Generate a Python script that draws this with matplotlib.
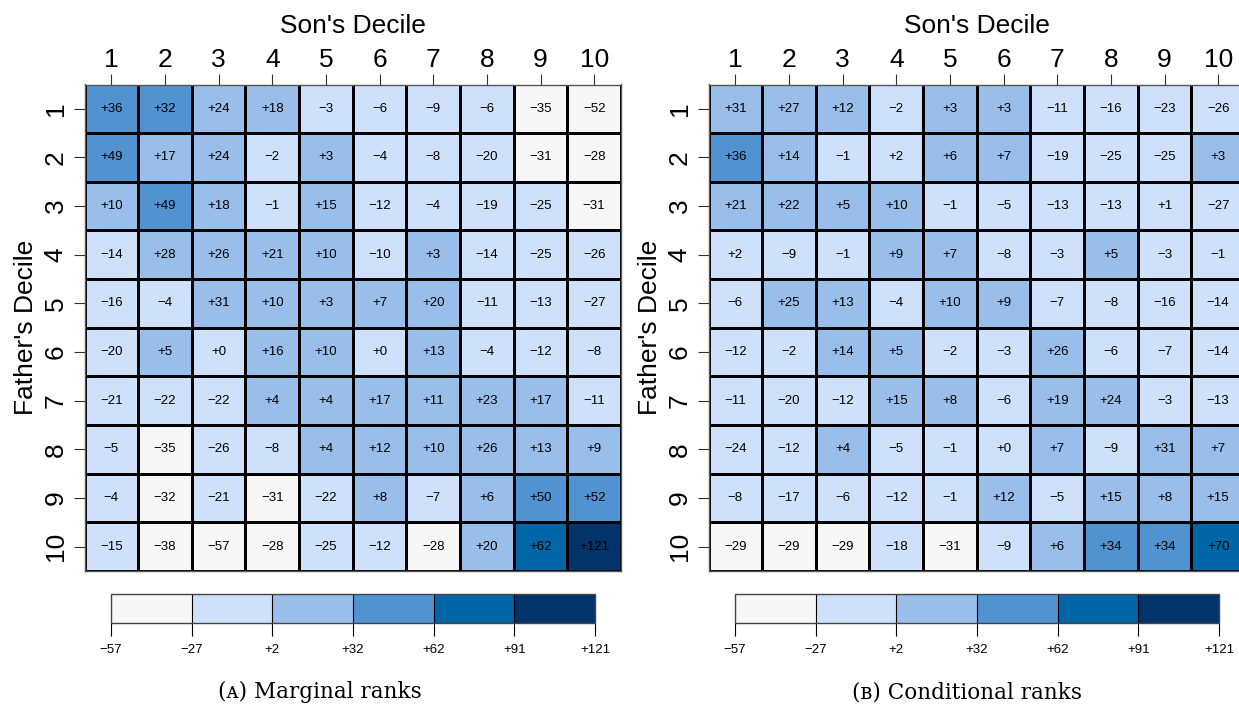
import numpy as np
import matplotlib
matplotlib.use('Agg')
import matplotlib.pyplot as plt
from matplotlib.colors import ListedColormap, BoundaryNorm

plt.rcParams['font.family'] = ['Liberation Sans', 'DejaVu Sans']

deciles = list(range(1, 11))

# rows = father's decile 1..10, columns = son's decile 1..10
marginal = [
    [36, 32, 24, 18, -3, -6, -9, -6, -35, -52],
    [49, 17, 24, -2, 3, -4, -8, -20, -31, -28],
    [10, 49, 18, -1, 15, -12, -4, -19, -25, -31],
    [-14, 28, 26, 21, 10, -10, 3, -14, -25, -26],
    [-16, -4, 31, 10, 3, 7, 20, -11, -13, -27],
    [-20, 5, 0, 16, 10, 0, 13, -4, -12, -8],
    [-21, -22, -22, 4, 4, 17, 11, 23, 17, -11],
    [-5, -35, -26, -8, 4, 12, 10, 26, 13, 9],
    [-4, -32, -21, -31, -22, 8, -7, 6, 50, 52],
    [-15, -38, -57, -28, -25, -12, -28, 20, 62, 121],
]

conditional = [
    [31, 27, 12, -2, 3, 3, -11, -16, -23, -26],
    [36, 14, -1, 2, 6, 7, -19, -25, -25, 3],
    [21, 22, 5, 10, -1, -5, -13, -13, 1, -27],
    [2, -9, -1, 9, 7, -8, -3, 5, -3, -1],
    [-6, 25, 13, -4, 10, 9, -7, -8, -16, -14],
    [-12, -2, 14, 5, -2, -3, 26, -6, -7, -14],
    [-11, -20, -12, 15, 8, -6, 19, 24, -3, -13],
    [-24, -12, 4, -5, -1, 0, 7, -9, 31, 7],
    [-8, -17, -6, -12, -1, 12, -5, 15, 8, 15],
    [-29, -29, -29, -18, -31, -9, 6, 34, 34, 70],
]

scale_min, scale_max = -57, 121
palette = ['#F7F7F7', '#CFE1FA', '#9ABEEA', '#5193D1', '#0066A6', '#02336A']

breaks = np.linspace(scale_min, scale_max, len(palette) + 1)
cmap = ListedColormap(palette).with_extremes(over=palette[-1], under=palette[0])
norm = BoundaryNorm(breaks, cmap.N)


def fmt(v):
    return f"{v:+.0f}".replace('-', '\u2212')


W, H = 1239, 714
fig = plt.figure(figsize=(W / 100, H / 100), dpi=100)


def panel(x0, data, caption, cap_x):
    ax = fig.add_axes([x0 / W, 1 - 571 / H, 536.5 / W, 486.5 / H])
    arr = np.array(data, dtype=float)
    edges = np.arange(0.5, 11.5, 1)
    mesh = ax.pcolormesh(edges, edges, arr, cmap=cmap, norm=norm,
                         edgecolors='black', linewidth=0.75)
    ax.set_xlim(0.5, 10.5)
    ax.set_ylim(10.5, 0.5)
    for i in range(10):
        for j in range(10):
            ax.text(deciles[j], deciles[i], fmt(arr[i, j]), ha='center', va='center',
                    fontsize=9.5, color='black')

    ax.xaxis.tick_top()
    ax.xaxis.set_label_position('top')
    ax.set_xticks(deciles)
    ax.set_yticks(deciles)
    ax.set_xticklabels([str(d) for d in deciles], fontsize=19)
    ax.set_yticklabels([str(d) for d in deciles], fontsize=19, rotation=90, va='center')
    ax.tick_params(axis='both', length=8, width=0.8, color='#333333')
    ax.tick_params(axis='x', pad=1)
    ax.tick_params(axis='y', pad=4)
    ax.set_xlabel("Son's Decile", fontsize=19, labelpad=11)
    ax.set_ylabel("Father's Decile", fontsize=19, labelpad=4)
    for s in ax.spines.values():
        s.set_color('#555555')
        s.set_linewidth(1.0)

    cax = fig.add_axes([(x0 + 26.5) / W, 1 - 623 / H, 484 / W, 29 / H])
    cb = fig.colorbar(mesh, cax=cax, orientation='horizontal', drawedges=True)
    cb.set_ticks(breaks)
    cb.set_ticklabels([fmt(round(b)) for b in breaks])
    cb.ax.tick_params(labelsize=9.5, length=9, width=0.8, pad=6)
    cb.outline.set_edgecolor('#444444')
    cb.outline.set_linewidth(1.0)
    cb.dividers.set_color('black')
    cb.dividers.set_linewidth(0.8)

    fig.text(cap_x / W, 1 - 692 / H, caption, ha='center', va='center',
             fontsize=15.5, family=['DejaVu Serif'])


panel(84.5, marginal, '(\u1d00) Marginal ranks', 320)
panel(708.5, conditional, '(\u0299) Conditional ranks', 967)

fig.savefig('out.png', dpi=100)
